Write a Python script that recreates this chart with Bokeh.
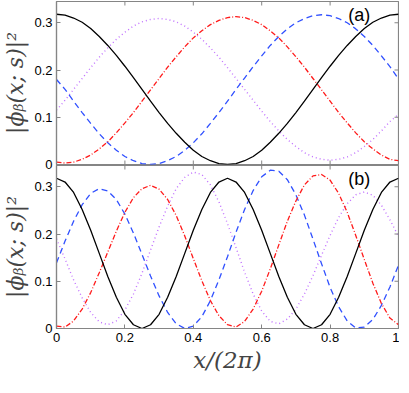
import math
from bokeh.plotting import figure
from bokeh.models import Range1d, FixedTicker, Label
from bokeh.layouts import column
from bokeh.embed import file_html
from bokeh.resources import INLINE

# x / (2 pi)
x = [0.0, 0.025, 0.05, 0.075, 0.1, 0.125, 0.15, 0.175, 0.2, 0.225,
     0.25, 0.275, 0.3, 0.325, 0.35, 0.375, 0.4, 0.425, 0.45, 0.475,
     0.5, 0.525, 0.55, 0.575, 0.6, 0.625, 0.65, 0.675, 0.7, 0.725,
     0.75, 0.775, 0.8, 0.825, 0.85, 0.875, 0.9, 0.925, 0.95, 0.975, 1.0]

# panel (a)
black_a = [0.318, 0.316, 0.310, 0.301, 0.288, 0.271, 0.252, 0.231, 0.208, 0.184,
           0.159, 0.134, 0.110, 0.087, 0.066, 0.047, 0.030, 0.017, 0.008, 0.002,
           0.000, 0.002, 0.008, 0.017, 0.030, 0.047, 0.066, 0.087, 0.110, 0.134,
           0.159, 0.184, 0.208, 0.231, 0.252, 0.271, 0.288, 0.301, 0.310, 0.316, 0.318]
red_a = [0.005, 0.003, 0.005, 0.011, 0.020, 0.033, 0.048, 0.067, 0.088, 0.110,
         0.134, 0.158, 0.182, 0.206, 0.228, 0.249, 0.268, 0.283, 0.296, 0.305,
         0.311, 0.313, 0.311, 0.305, 0.296, 0.283, 0.268, 0.249, 0.228, 0.206,
         0.182, 0.158, 0.134, 0.110, 0.088, 0.067, 0.048, 0.033, 0.020, 0.011, 0.008]
blue_a = [0.180, 0.159, 0.134, 0.110, 0.087, 0.065, 0.046, 0.030, 0.017, 0.008,
          0.002, 0.000, 0.002, 0.008, 0.017, 0.030, 0.046, 0.065, 0.087, 0.110,
          0.134, 0.159, 0.183, 0.207, 0.230, 0.252, 0.271, 0.287, 0.300, 0.309,
          0.315, 0.317, 0.315, 0.309, 0.300, 0.287, 0.271, 0.252, 0.230, 0.207, 0.181]
mag_a = [0.115, 0.136, 0.159, 0.182, 0.205, 0.227, 0.247, 0.265, 0.280, 0.293,
         0.302, 0.307, 0.309, 0.307, 0.302, 0.293, 0.280, 0.265, 0.247, 0.227,
         0.205, 0.182, 0.159, 0.136, 0.113, 0.091, 0.071, 0.053, 0.038, 0.025,
         0.016, 0.011, 0.009, 0.011, 0.016, 0.025, 0.038, 0.053, 0.071, 0.091, 0.106]

# panel (b)
black_b = [0.318, 0.310, 0.288, 0.252, 0.208, 0.159, 0.110, 0.066, 0.030, 0.008,
           0.000, 0.008, 0.030, 0.066, 0.110, 0.159, 0.208, 0.252, 0.288, 0.310,
           0.318, 0.310, 0.288, 0.252, 0.208, 0.159, 0.110, 0.066, 0.030, 0.008,
           0.000, 0.008, 0.030, 0.066, 0.110, 0.159, 0.208, 0.252, 0.288, 0.310, 0.318]
blue_b = [0.139, 0.185, 0.227, 0.262, 0.286, 0.296, 0.291, 0.273, 0.242, 0.202,
          0.157, 0.111, 0.069, 0.034, 0.010, 0.000, 0.005, 0.025, 0.059, 0.103,
          0.152, 0.204, 0.252, 0.292, 0.321, 0.335, 0.333, 0.315, 0.283, 0.240,
          0.189, 0.137, 0.087, 0.046, 0.016, 0.001, 0.003, 0.019, 0.049, 0.088, 0.134]
red_b = [0.005, 0.003, 0.016, 0.041, 0.076, 0.118, 0.162, 0.206, 0.246, 0.277,
         0.296, 0.303, 0.295, 0.273, 0.239, 0.196, 0.148, 0.101, 0.059, 0.027,
         0.008, 0.003, 0.015, 0.041, 0.079, 0.126, 0.177, 0.227, 0.270, 0.304,
         0.323, 0.326, 0.314, 0.286, 0.246, 0.197, 0.146, 0.096, 0.053, 0.022, 0.008]
mag_b = [0.190, 0.147, 0.103, 0.065, 0.034, 0.014, 0.008, 0.016, 0.039, 0.073,
         0.117, 0.166, 0.215, 0.259, 0.296, 0.320, 0.331, 0.326, 0.304, 0.268,
         0.222, 0.171, 0.119, 0.073, 0.037, 0.015, 0.010, 0.020, 0.041, 0.073,
         0.112, 0.155, 0.197, 0.235, 0.264, 0.283, 0.289, 0.282, 0.261, 0.230, 0.195]

x_ticks = [0, 0.2, 0.4, 0.6, 0.8, 1]
x_tick_labels = ["0", "0.2", "0.4", "0.6", "0.8", "1"]
y_ticks = [0, 0.1, 0.2, 0.3]
y_tick_labels = ["0", "0.1", "0.2", "0.3"]

X_MIN, X_MAX = 0, 1
Y_MIN, Y_MAX = 0, 0.345

Y_LABEL = "|\u03d5\u1d66(x; s)|\u00b2"
X_LABEL = "x/(2\u03c0)"

FRAME_COL = "#858585"
TICK_FONT = "Liberation Sans"


def style_axis(ax, ticks, labels):
    ax.ticker = FixedTicker(ticks=ticks)
    ax.major_label_overrides = {t: l for t, l in zip(ticks, labels)}
    ax.axis_line_color = FRAME_COL
    ax.axis_line_width = 1.2
    ax.major_tick_line_color = FRAME_COL
    ax.major_tick_line_width = 1
    ax.major_tick_in = 4
    ax.major_tick_out = 0
    ax.minor_tick_line_color = None
    ax.major_label_text_font = TICK_FONT
    ax.major_label_text_color = "black"
    ax.major_label_text_font_size = "13px"
    ax.major_label_standoff = 4


def edge_ticks(p, bottom):
    # inward ticks on the top and right frame edges (and bottom edge of upper panel)
    p.scatter(x_ticks, [Y_MAX] * len(x_ticks), marker="dash", size=8,
              angle=math.pi / 2, line_color=FRAME_COL, line_width=1)
    p.scatter([X_MAX] * len(y_ticks), y_ticks, marker="dash", size=8,
              line_color=FRAME_COL, line_width=1)
    if not bottom:
        p.scatter(x_ticks, [Y_MIN] * len(x_ticks), marker="dash", size=8,
                  angle=math.pi / 2, line_color=FRAME_COL, line_width=1)


def make_panel(tag, black, red, blue, mag, bottom):
    p = figure(output_backend="svg", toolbar_location=None,
               frame_width=342, frame_height=163,
               x_range=Range1d(X_MIN, X_MAX), y_range=Range1d(Y_MIN, Y_MAX),
               x_axis_location="below" if bottom else None,
               min_border_left=49, min_border_right=1,
               min_border_top=0 if bottom else 1,
               min_border_bottom=0 if bottom else 10,
               background_fill_color="white",
               border_fill_color=None if bottom else "white",
               outline_line_color=FRAME_COL, outline_line_width=1.2)
    p.grid.visible = False

    p.line(x, mag, line_color="#c070ff", line_width=1.4, line_dash="1 3")
    p.line(x, blue, line_color="#3050ff", line_width=1.3, line_dash="6 4")
    p.line(x, red, line_color="#ff1a1a", line_width=1.3, line_dash="5 2 1 2")
    p.line(x, black, line_color="black", line_width=1.3)

    edge_ticks(p, bottom)

    style_axis(p.yaxis[0], y_ticks, y_tick_labels)
    p.yaxis.axis_label = Y_LABEL
    p.yaxis.axis_label_text_font = "DejaVu Serif"
    p.yaxis.axis_label_text_font_size = "22px"
    p.yaxis.axis_label_text_font_style = "italic"
    p.yaxis.axis_label_standoff = 3
    if bottom:
        style_axis(p.xaxis[0], x_ticks, x_tick_labels)
        p.xaxis.axis_label = X_LABEL
        p.xaxis.axis_label_text_font = "DejaVu Serif"
        p.xaxis.axis_label_text_font_size = "23px"
        p.xaxis.axis_label_text_font_style = "italic"
        p.xaxis.axis_label_standoff = 2

    p.add_layout(Label(x=0.853, y=0.317, text=tag, text_font=TICK_FONT,
                       text_font_size="18px", text_baseline="middle",
                       text_color="black"))
    return p


pa = make_panel("(a)", black_a, red_a, blue_a, mag_a, False)
pb = make_panel("(b)", black_b, red_b, blue_b, mag_b, True)
pb.margin = (-9, 0, 0, 0)

layout = column(pa, pb, spacing=0)
open("out.html", "w").write(file_html(layout, INLINE))
